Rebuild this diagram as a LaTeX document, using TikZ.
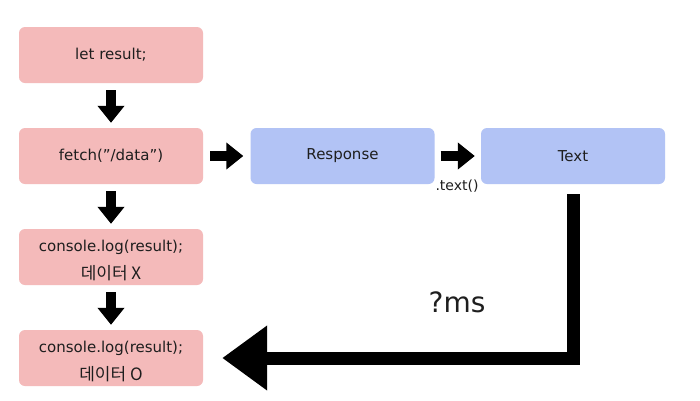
\documentclass[tikz,border=0pt]{standalone}
\usepackage{fontspec}
\setmainfont{DejaVu Sans}
\newfontfamily\kr{Noto Sans CJK KR}
\usetikzlibrary{arrows.meta}
\definecolor{pinkc}{RGB}{244,186,186}
\definecolor{bluec}{RGB}{178,195,245}
\definecolor{txtc}{RGB}{30,30,30}
\tikzset{
  boxstyle/.style={rounded corners=6pt, minimum width=184pt, minimum height=56pt, inner sep=0pt, text=txtc, font=\fontsize{15}{18}\selectfont},
  pinkbox/.style={boxstyle, fill=pinkc},
  bluebox/.style={boxstyle, fill=bluec},
  lbl/.style={inner sep=0pt, text=txtc, font=\fontsize{15}{18}\selectfont},
  krlbl/.style={inner sep=0pt, text=txtc, font=\kr\fontsize{17}{20}\selectfont},
  smallarrow/.style={line width=10pt, -{Triangle[width=26pt,length=17pt]}},
  bigarrow/.style={line width=13pt, line join=miter, -{Triangle[width=62pt,length=45pt]}},
}
\begin{document}
\begin{tikzpicture}[x=1pt,y=-1pt]
\fill[white] (0,0) rectangle (700,400);
\useasboundingbox (0,0) rectangle (700,400);
\node[pinkbox] (let) at (111,55) {let result;};
\node[pinkbox] (fetch) at (111,156) {fetch(”/data”)};
\node[pinkbox] (c1) at (111,257) {};
\node[lbl] (c1a) at (111,247) {console.log(result);};
\node[krlbl] (c1b) at (111,273) {데이터 X};
\node[pinkbox] (c2) at (111,358) {};
\node[lbl] (c2a) at (111,348) {console.log(result);};
\node[krlbl] (c2b) at (111,374) {데이터 O};
\node[bluebox] (resp) at (342.5,156) {Response};
\node[bluebox] (text) at (573,156) {Text};
\draw[smallarrow, shorten <=7pt, shorten >=5pt] (let.south) -- (fetch.north);
\draw[smallarrow, shorten <=7pt, shorten >=5pt] (fetch.south) -- (c1.north);
\draw[smallarrow, shorten <=7pt, shorten >=5pt] (c1.south) -- (c2.north);
\draw[smallarrow, shorten <=7pt, shorten >=7pt] (fetch.east) -- (resp.west);
\draw[smallarrow, shorten <=6pt, shorten >=6pt] (resp.east) -- (text.west);
\node[lbl, font=\fontsize{14}{16}\selectfont] (tl) at (457,186) {.text()};
\draw[bigarrow, shorten <=10pt, shorten >=19pt] (text.south) |- (c2.east);
\node[lbl, font=\fontsize{28}{32}\selectfont] (ms) at (457,302) {?ms};
\end{tikzpicture}
\end{document}
